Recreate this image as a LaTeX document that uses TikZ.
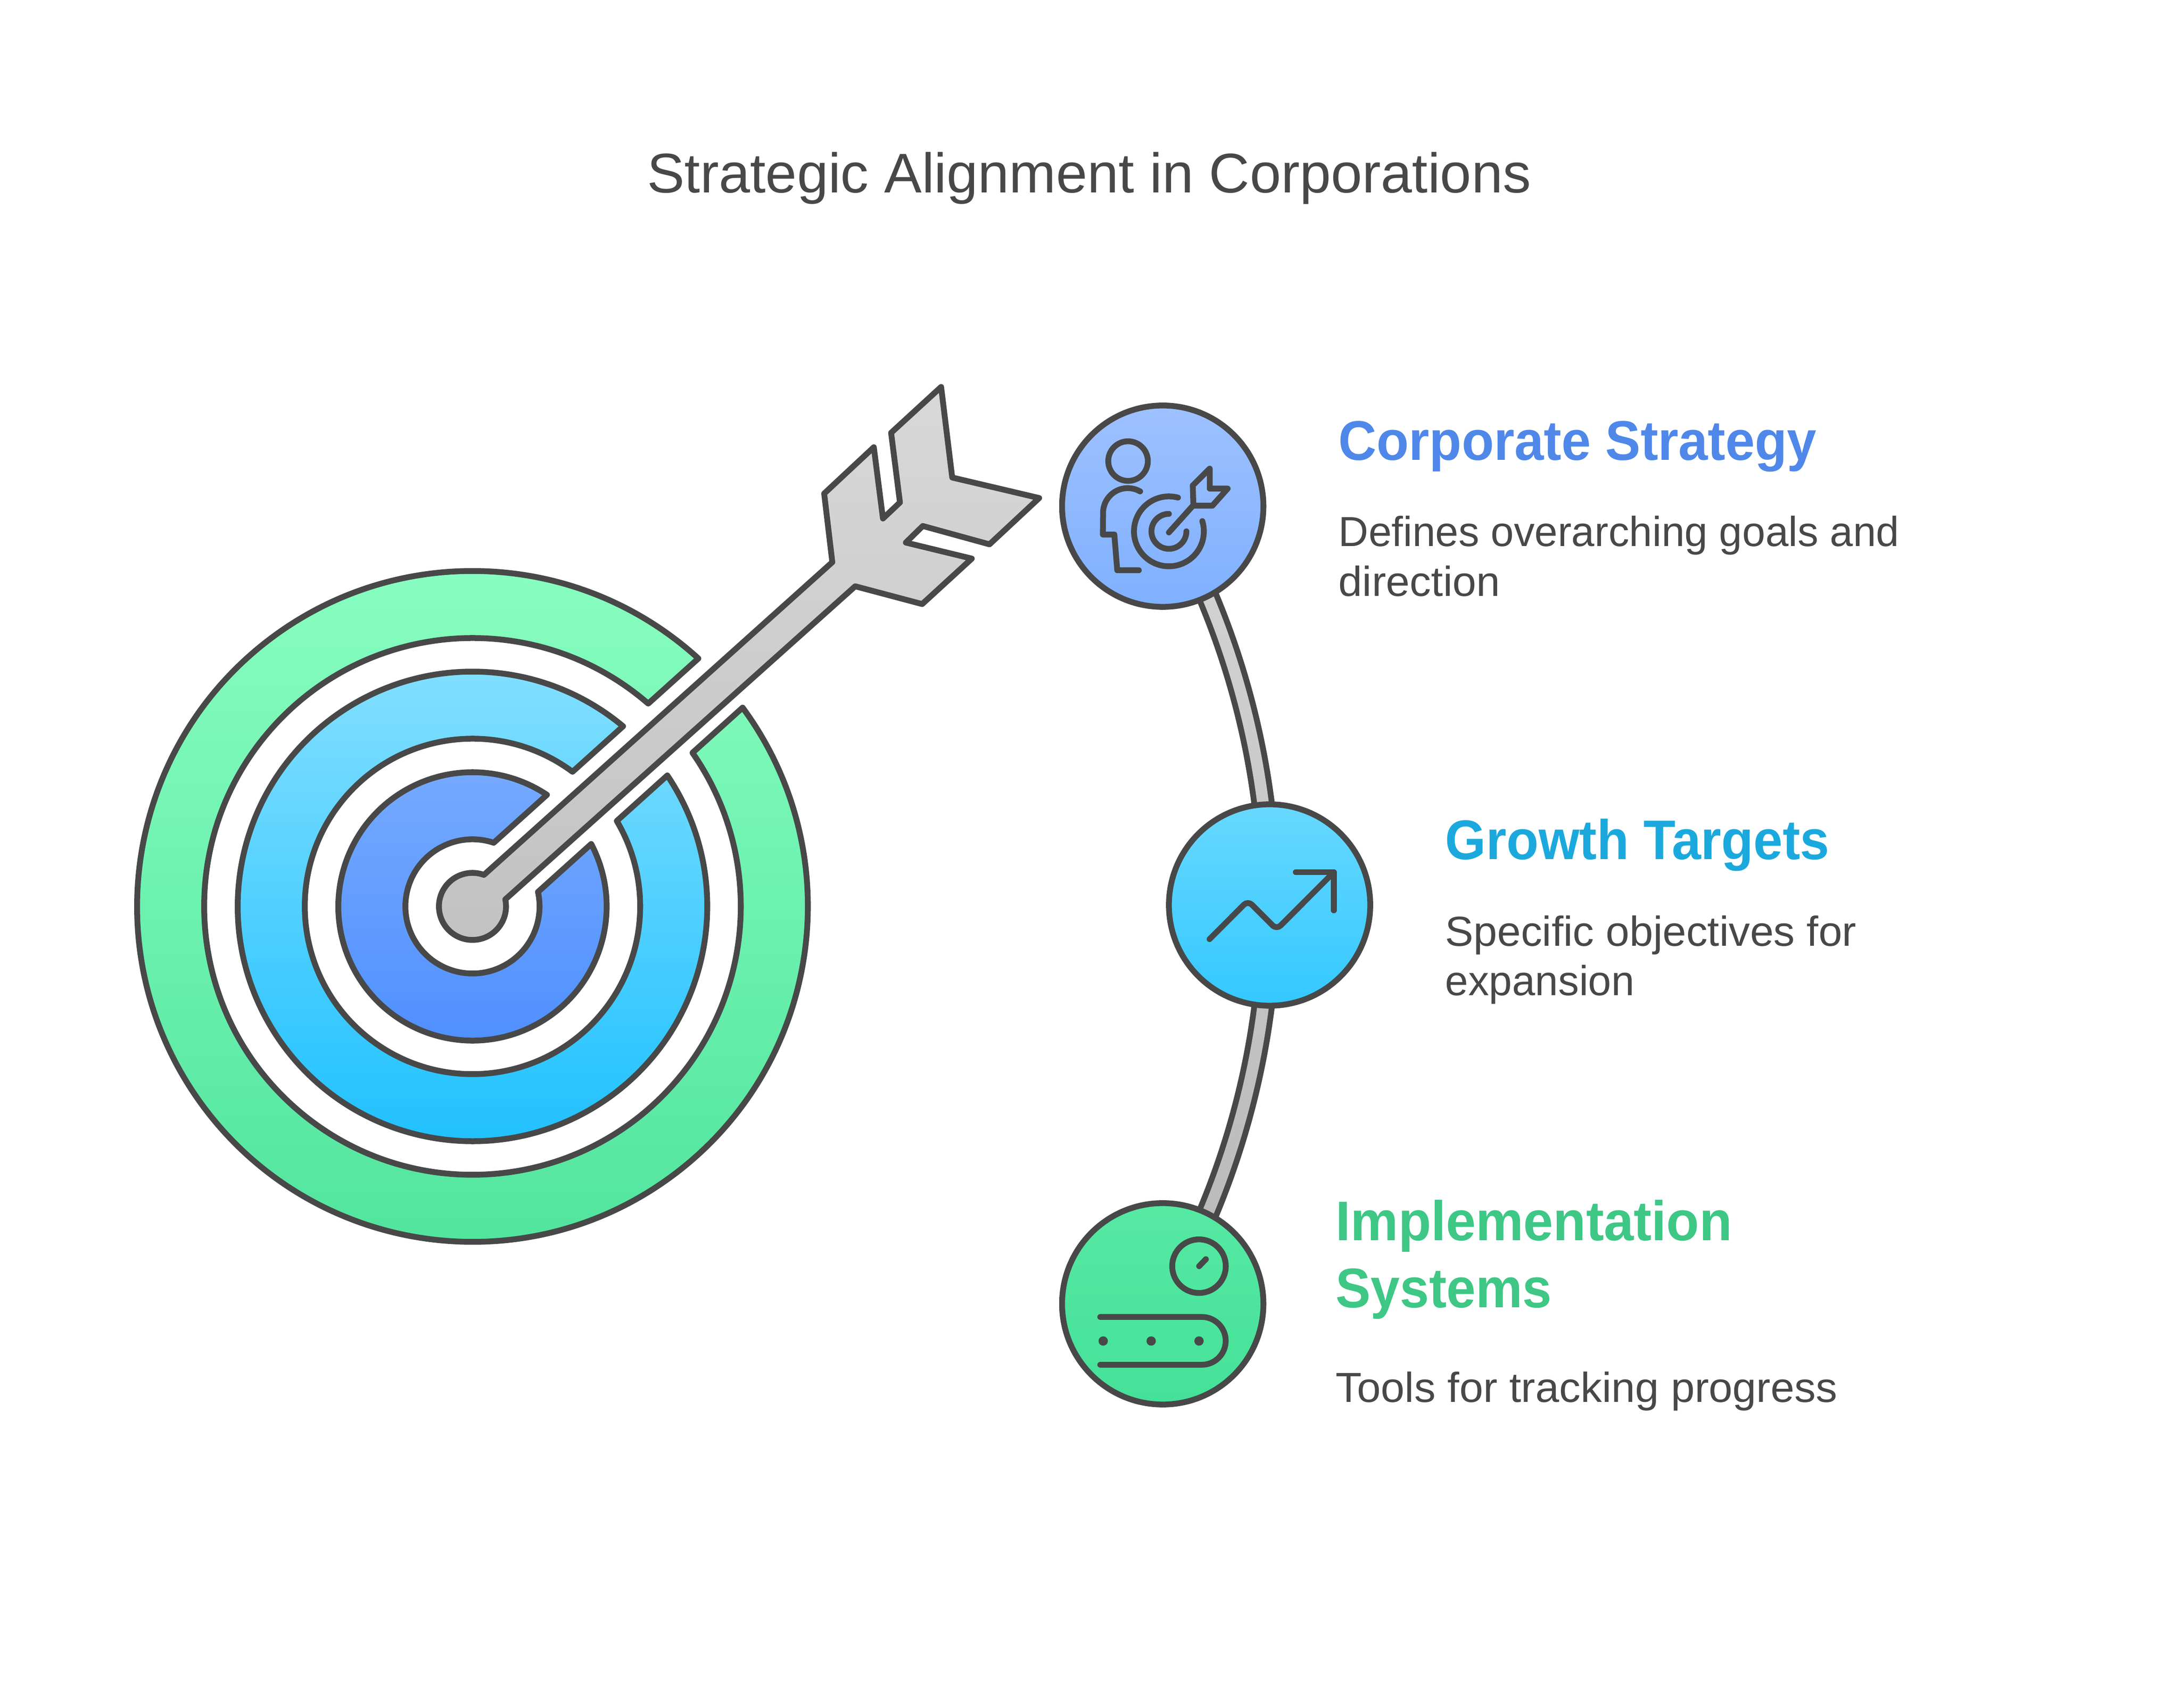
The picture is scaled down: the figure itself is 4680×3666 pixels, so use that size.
\documentclass[tikz,border=0pt]{standalone}
\usepackage{fontspec}
\setmainfont{Liberation Sans}
\newfontfamily\fHa[FakeStretch=0.945]{Liberation Sans}
\newfontfamily\fHb[FakeStretch=0.94]{Liberation Sans}
\newfontfamily\fHc[FakeStretch=0.96]{Liberation Sans}
\newfontfamily\fDa[FakeStretch=0.99]{Liberation Sans}
\newfontfamily\fDb[FakeStretch=1.014]{Liberation Sans}
\newfontfamily\fDc[FakeStretch=1.02]{Liberation Sans}
\newfontfamily\fT[FakeStretch=1.006]{Liberation Sans}
\usetikzlibrary{backgrounds}
\definecolor{ink}{HTML}{484848}
\definecolor{hblue}{HTML}{4F88E9}
\definecolor{hcyan}{HTML}{1BA9DD}
\definecolor{hgreen}{HTML}{3EC785}
\definecolor{gA}{HTML}{8AFFC1}\definecolor{gB}{HTML}{4EE39B}
\definecolor{cA}{HTML}{85E0FF}\definecolor{cB}{HTML}{1ABFFF}
\definecolor{bA}{HTML}{76AAFF}\definecolor{bB}{HTML}{4D8EFF}
\definecolor{n1A}{HTML}{9EC1FF}\definecolor{n1B}{HTML}{7FB0FF}
\definecolor{n2A}{HTML}{68D8FF}\definecolor{n2B}{HTML}{33C8FF}
\definecolor{n3A}{HTML}{56E9A3}\definecolor{n3B}{HTML}{45E198}
\definecolor{arA}{HTML}{D8D8D8}\definecolor{arB}{HTML}{C2C2C2}
\definecolor{bdA}{HTML}{D4D4D4}\definecolor{bdB}{HTML}{B8B8B8}
\tikzset{
  ln/.style={draw=ink,line width=0.125cm,line join=round,line cap=round},
  ico/.style={ln,fill=none},
  sym/.style={circle,minimum size=4.32cm,inner sep=0pt,outer sep=0pt,draw=ink,line width=0.125cm},
  ttl/.style={anchor=base,font=\fT\fontsize{34.1}{34.1}\selectfont,text=ink,inner sep=0pt},
  hd/.style={anchor=base west,inner sep=0pt},
  ds/.style={anchor=base west,text=ink,inner sep=0pt}
}
\newcommand{\hsz}{\fontsize{34.1}{34.1}\selectfont\bfseries}
\newcommand{\dsz}{\fontsize{25.6}{25.6}\selectfont}
\newcommand{\ringsector}[4]{%
  \pgfmathsetmacro{\aL}{42-asin(71/#1)}
  \pgfmathsetmacro{\aU}{42+asin(71/#1)-360}
  \pgfmathsetmacro{\bL}{42-asin(71/#2)}
  \pgfmathsetmacro{\bU}{42+asin(71/#2)-360}
  \shadedraw[ln,top color=#3,bottom color=#4] ([shift={(\aL:#1)}]hub)
    arc[start angle=\aL,end angle=\aU,radius=#1]
    -- ([shift={(\bU:#2)}]hub)
    arc[start angle=\bU,end angle=\bL,radius=#2] -- cycle;
}
\begin{document}
\begin{tikzpicture}[x=0.01cm,y=0.01cm]
\useasboundingbox (0,0) rectangle (4680,3666);
\coordinate (hub) at (1014.3,1720.5);
\coordinate (arcc) at (1013.5,1723.5);
% step nodes
\node[sym,top color=n1A,bottom color=n1B] (n1) at ([shift={(30:1712)}]arcc) {};
\node[sym,top color=n2A,bottom color=n2B] (n2) at ([shift={(0:1712)}]arcc) {};
\node[sym,top color=n3A,bottom color=n3B] (n3) at ([shift={(-30:1712)}]arcc) {};
% connector band
\begin{scope}[on background layer]
  \draw[draw=ink,line width=0.5cm] (n1.center) arc[start angle=30,end angle=-30,radius=1712];
  \shade[top color=bdA,bottom color=bdB] ([shift={(30:1699.5)}]arcc)
     arc[start angle=30,end angle=-30,radius=1699.5]
     -- ([shift={(-30:1724.5)}]arcc)
     arc[start angle=-30,end angle=30,radius=1724.5] -- cycle;
\end{scope}
% target
\ringsector{720}{576}{gA}{gB}
\ringsector{504}{360}{cA}{cB}
\ringsector{288}{144}{bA}{bB}
% arrow
\shadedraw[ln,top color=arA,bottom color=arB]
  (1786.8,2459.3) -- (1769.3,2606.6) -- (1875.9,2706.1) -- (1895.5,2553) -- (1932,2587.5)
  -- (1913,2737) -- (2020.4,2835.5) -- (2044.2,2641) -- (2230.9,2597) -- (2124.2,2497.6)
  -- (1981,2537) -- (1944.6,2501.4) -- (2086.3,2467) -- (1979.7,2369.4) -- (1835.9,2407.6)
  -- ([shift={(12:72)}]hub) arc[start angle=12,end angle=-290,radius=72] -- cycle;
% icon: person with target
\draw[ico] (2421.7,2676.3) circle[radius=42.5];
\draw[ico] (2447.6,2611.2) arc[start angle=60,end angle=180,radius=53]
  -- (2367.6,2518.6) -- (2392.2,2518.6) -- (2398.5,2442) -- (2444.8,2442);
\draw[ico] ([shift={(75:75)}]2509.4,2525.5) arc[start angle=75,end angle=377,radius=75];
\draw[ico] ([shift={(90:37.5)}]2509.4,2525.5) arc[start angle=90,end angle=360,radius=37.5];
\draw[ico] (2509.4,2523.2) -- (2562,2581.8);
\draw[ico] (2562,2580.6) -- (2560.6,2624) -- (2597,2660.2) -- (2597,2617.3) -- (2635.6,2617.3) -- (2602.7,2580.6) -- cycle;
% icon: growth
\draw[ico,rounded corners=0.12cm] (2596.7,1650.3) -- (2679,1732.7) -- (2740.7,1671) -- (2863.3,1793.7);
\draw[ico] (2781.7,1794) -- (2863.3,1794) -- (2863.3,1712);
% icon: conveyor with gauge
\draw[ico] (2574,948.3) circle[radius=57.5];
\draw[ico] (2574.3,948.3) -- (2588.7,963.3);
\draw[ico] (2362,839.3) -- (2580,839.3) arc[start angle=90,end angle=-90,radius=51.3] -- (2362,736.7);
\fill[ink] (2368.3,787.7) circle[radius=10] (2471.3,787.7) circle[radius=10] (2574,787.7) circle[radius=10];
% text
\node[ttl] (title) at (2338,3252.5) {Strategic Alignment in Corporations};
\node[hd,text=hblue,font=\fHa\hsz] (h1) at (2873,2678) {Corporate Strategy};
\node[ds,font=\fDa\dsz] (d1a) at (2873,2493) {Defines overarching goals and};
\node[ds,font=\fDc\dsz] (d1b) at (2873,2386) {direction};
\node[hd,text=hcyan,font=\fHb\hsz] (h2) at (3102,1821) {Growth Targets};
\node[ds,font=\fDb\dsz] (d2a) at (3102,1635.5) {Specific objectives for};
\node[ds,font=\fDa\dsz] (d2b) at (3102,1529) {expansion};
\node[hd,text=hgreen,font=\fHc\hsz] (h3a) at (2867,1003.3) {Implementation};
\node[hd,text=hgreen,font=\fHb\hsz] (h3b) at (2867,859.3) {Systems};
\node[ds,font=\fDc\dsz] (d3) at (2867,656) {Tools for tracking progress};
\end{tikzpicture}
\end{document}
